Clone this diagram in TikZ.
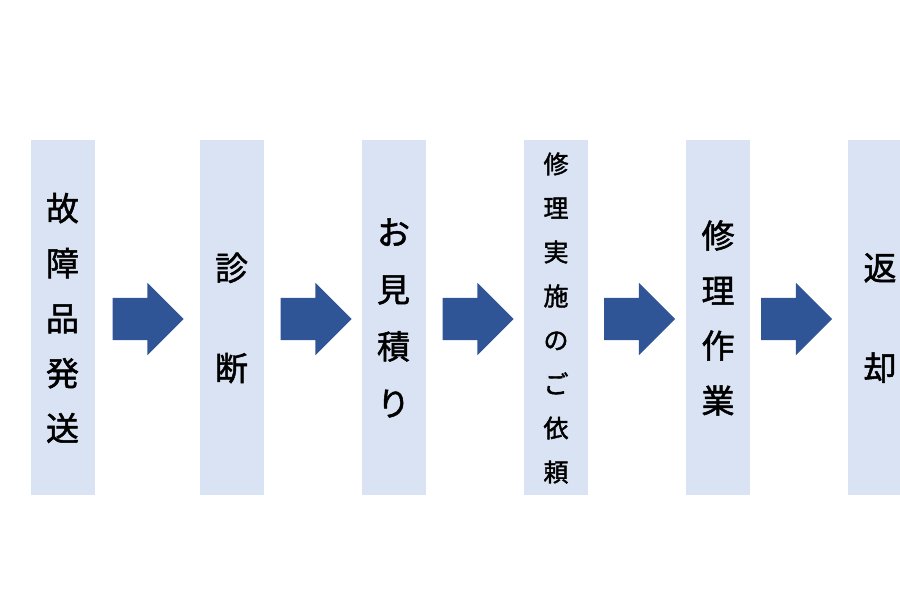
\documentclass[tikz,border=0pt]{standalone}
\usepackage{fontspec}
\newfontfamily\cjk[FakeBold=1.5]{Noto Sans CJK JP}
\usetikzlibrary{shapes.arrows}
\definecolor{boxfill}{HTML}{DAE3F3}
\definecolor{arrowfill}{HTML}{2F5597}
\tikzset{
  stage/.style={fill=boxfill, minimum width=64pt, minimum height=355pt, inner sep=0pt, align=center},
  big/.style={font=\cjk\fontsize{33}{#1}\selectfont},
  go/.style={single arrow, fill=arrowfill, minimum width=72pt, minimum height=71pt, single arrow head extend=15pt, inner sep=0pt, inner ysep=21pt}
}
\begin{document}
\begin{tikzpicture}[x=1pt,y=1pt]
  \useasboundingbox (0,0) rectangle (900,600);
  \node[stage, big=55] (b1) at (62.5,282) {故\\障\\品\\発\\送};
  \node[stage, big=100] (b2) at (231.5,282) {診\\断};
  \node[stage, big=57] (b3) at (393.5,282) {お\\見\\積\\り};
  \node[stage, font=\cjk\fontsize{25}{44}\selectfont] (b4) at (556,282) {修\\理\\実\\施\\の\\ご\\依\\頼};
  \node[stage, big=55] (b5) at (718,282) {修\\理\\作\\業};
  \node[stage, big=100] (b6) at (880,282) {返\\却};
  \node[go] (a1) at (137.5,281) {};
  \node[go] (a2) at (305.5,281) {};
  \node[go] (a3) at (467.5,281) {};
  \node[go] (a4) at (629,281) {};
  \node[go] (a5) at (786,281) {};
\end{tikzpicture}
\end{document}
